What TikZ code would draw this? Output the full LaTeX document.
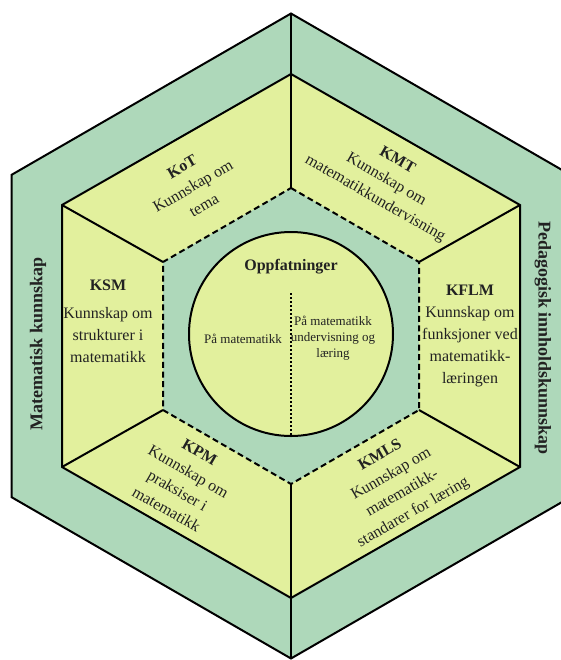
\documentclass[tikz,border=0pt]{standalone}
\usepackage{fontspec}
\setmainfont{Liberation Serif}

\definecolor{ringgreen}{HTML}{AED8BA}
\definecolor{paleyellow}{HTML}{E2F09D}
\definecolor{inktext}{HTML}{222222}

\tikzset{
  label text/.style={font=\fontsize{8}{11}\selectfont, text=inktext, align=center, inner sep=0pt},
  ring label/.style={font=\fontsize{9}{11}\selectfont\bfseries, text=inktext, inner sep=0pt},
  small text/.style={font=\fontsize{6.5}{8}\selectfont, text=inktext, align=center, inner sep=0pt},
}

\begin{document}
\begin{tikzpicture}[x=0.5pt, y=-0.5pt, line width=1pt]
  \useasboundingbox (0,0) rectangle (561,660);

  % outer ring corners
  \coordinate (o1) at (291,13.5);
  \coordinate (o2) at (570.3,174.75);
  \coordinate (o3) at (570.3,497.25);
  \coordinate (o4) at (291,658.5);
  \coordinate (o5) at (11.7,497.25);
  \coordinate (o6) at (11.7,174.75);
  % knowledge domains
  \coordinate (y1) at (291,74);
  \coordinate (y2) at (520,205);
  \coordinate (y3) at (520,467);
  \coordinate (y4) at (291,598);
  \coordinate (y5) at (62,467);
  \coordinate (y6) at (62,205);
  % inner dashed hexagon
  \coordinate (d1) at (291,188);
  \coordinate (d2) at (419,262);
  \coordinate (d3) at (419,410);
  \coordinate (d4) at (291,484);
  \coordinate (d5) at (163,410);
  \coordinate (d6) at (163,262);

  \filldraw[fill=ringgreen] (o1) -- (o2) -- (o3) -- (o4) -- (o5) -- (o6) -- cycle;
  \filldraw[fill=paleyellow] (y1) -- (y2) -- (y3) -- (y4) -- (y5) -- (y6) -- cycle;
  \fill[ringgreen] (d1) -- (d2) -- (d3) -- (d4) -- (d5) -- (d6) -- cycle;
  \draw[dash pattern=on 3pt off 1.8pt] (d1) -- (d2) -- (d3) -- (d4) -- (d5) -- (d6) -- cycle;

  % dividers
  \draw (o1) -- (d1);
  \draw (o4) -- (d4);
  \draw (y2) -- (d2);
  \draw (y3) -- (d3);
  \draw (y5) -- (d5);
  \draw (y6) -- (d6);

  % beliefs in the middle
  \node[circle, draw, fill=paleyellow, minimum size=102pt, inner sep=0pt] (core) at (291,334) {};
  \coordinate (split) at (291,293);
  \draw[line width=1.2pt, dash pattern=on 1pt off 1pt] (split) -- (core.south);

  \node[label text, font=\fontsize{8}{10}\selectfont\bfseries] (beliefs) at (291,267) {Oppfatninger};
  \node[small text] (onmath) at (243,339) {På matematikk};
  \node[small text] (onteach) at (333,338) {På matematikk\\undervisning og\\læring};

  % domain labels
  \node[label text, rotate=30] (kot) at (193,186) {\textbf{KoT}\\Kunnskap om\\tema};
  \node[label text, rotate=-30] (kmt) at (386,180) {\textbf{KMT}\\Kunnskap om\\matematikkundervisning};
  \node[label text] (ksm) at (108,321) {\textbf{KSM}\\[3pt]Kunnskap om\\strukturer i\\matematikk};
  \node[label text] (kflm) at (470,336) {\textbf{KFLM}\\Kunnskap om\\funksjoner ved\\matematikk-\\læringen};
  \node[label text, rotate=-30] (kpm) at (183,481) {\textbf{KPM}\\Kunnskap om\\praksiser i\\matematikk};
  \node[label text, rotate=30] (kmls) at (397,484) {\textbf{KMLS}\\Kunnskap om\\matematikk-\\standarer for læring};

  \node[ring label, rotate=90] (mathk) at (38,344) {Matematisk kunnskap};
  \node[ring label, rotate=-90] (pedk) at (543,338) {Pedagogisk innholdskunnskap};
\end{tikzpicture}
\end{document}
